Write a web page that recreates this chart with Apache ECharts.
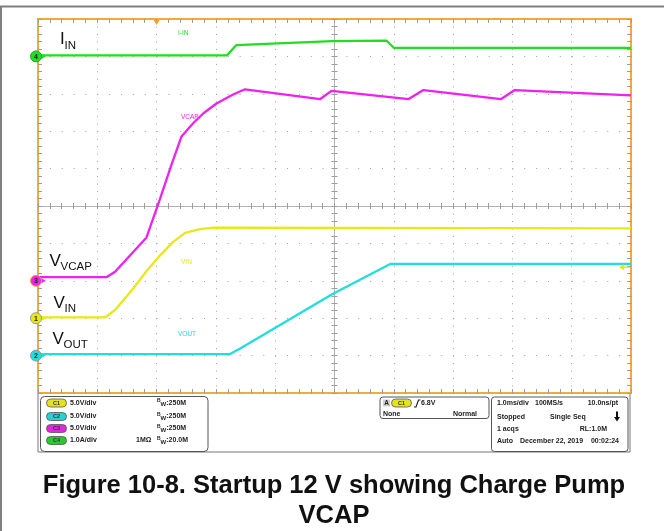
<!DOCTYPE html>
<html>
<head>
<meta charset="utf-8">
<script src="https://cdn.jsdelivr.net/npm/echarts@6/dist/echarts.min.js"></script>
<style>
  html, body { margin: 0; padding: 0; background: #fff; }
  #main { width: 664px; height: 531px; }
</style>
</head>
<body>
<div id="main"></div>
<script>
// time axis in ms, 1.0 ms/div, trigger sits on the 2nd division
const timeMin = -2;
const timeMax = 8;

// C4  I_IN (A), 1.0 A/div
const iinTime = [-2, 1.19, 1.34, 2.96, 3.88, 4.0, 8];
const iinAmps = [0.03, 0.03, 0.30, 0.41, 0.42, 0.23, 0.23];

// C3  VCAP (V), 5.0 V/div
const vcapTime = [-2, -0.84, -0.70, -0.17, 0.05, 0.25, 0.42, 0.62, 0.79, 1.01, 1.29, 1.49, 2.76, 2.95, 4.25, 4.50, 5.81, 6.04, 8];
const vcapVolts = [0.5, 0.5, 1.2, 5.8, 10.8, 15.5, 19.3, 21.1, 22.4, 23.7, 24.9, 25.6, 24.3, 25.4, 24.3, 25.5, 24.3, 25.5, 24.8];

// C1  VIN (V), 5.0 V/div
const vinTime = [-2, -0.87, -0.70, -0.39, -0.17, 0.06, 0.28, 0.48, 0.73, 0.96, 8];
const vinVolts = [0.1, 0.1, 1.1, 4.0, 6.3, 8.4, 10.2, 11.4, 11.9, 12.1, 12.0];

// C2  VOUT (V), 5.0 V/div
const voutTime = [-2, 1.24, 1.41, 2.96, 3.94, 8];
const voutVolts = [0.2, 0.2, 0.95, 8.2, 12.25, 12.25];

// trigger: C1 rising, 6.8 V
const triggerTime = 0;
const triggerLevel = 6.8;

// ground marker (divisions from bottom) and scale of each channel
const channels = [
  { num: '4', tag: 'I-IN', t: iinTime, v: iinAmps, ground: 9, perDiv: 1.0, color: '#22dd22', ring: '#22aa22' },
  { num: '3', tag: 'VCAP', t: vcapTime, v: vcapVolts, ground: 3, perDiv: 5.0, color: '#ee22ee', ring: '#f0a030' },
  { num: '1', tag: 'VIN', t: vinTime, v: vinVolts, ground: 2, perDiv: 5.0, color: '#e8e816', ring: '#999999' },
  { num: '2', tag: 'VOUT', t: voutTime, v: voutVolts, ground: 1, perDiv: 5.0, color: '#22dddd', ring: '#999999' }
];

const chart = echarts.init(document.getElementById('main'));
const FONT = '"Liberation Sans", Arial, sans-serif';
const tickStyle = { color: '#9c9c9c', width: 1 };

function frameAxis(kind, position, extra) {
  const isX = kind === 'x';
  return Object.assign({
    type: 'value',
    min: isX ? timeMin : 0,
    max: isX ? timeMax : 10,
    interval: 1,
    position: position,
    axisLine: { show: false, onZero: false },
    axisTick: { show: true, inside: true, length: 4, lineStyle: tickStyle },
    minorTick: { show: true, splitNumber: 5, length: 4, lineStyle: tickStyle },
    axisLabel: { show: false },
    splitLine: { show: false }
  }, extra || {});
}

const centerLine = { show: true, onZero: false, lineStyle: { color: '#b4b4b4', width: 1 } };

const option = {
  animation: false,
  backgroundColor: '#fff',
  grid: {
    left: 38, top: 19, width: 593, height: 374,
    show: true, backgroundColor: '#fff',
    borderColor: '#f2aa3c', borderWidth: 2
  },
  xAxis: [
    frameAxis('x', 'bottom', {
      splitLine: { show: true, lineStyle: { color: '#a0a0a0', width: 1, type: [1, 6.48] } }
    }),
    frameAxis('x', 'top'),
    frameAxis('x', 'bottom', { offset: -187, axisLine: centerLine,
      axisTick: { show: true, inside: true, length: 3, lineStyle: tickStyle },
      minorTick: { show: true, splitNumber: 5, length: 3, lineStyle: tickStyle } }),
    frameAxis('x', 'bottom', { offset: -187,
      axisTick: { show: true, inside: false, length: 3, lineStyle: tickStyle },
      minorTick: { show: true, splitNumber: 5, length: 3, lineStyle: tickStyle } })
  ],
  yAxis: [
    frameAxis('y', 'left', {
      splitLine: { show: true, lineStyle: { color: '#a0a0a0', width: 1, type: [1, 10.86] } }
    }),
    frameAxis('y', 'right'),
    frameAxis('y', 'left', { offset: -296.5, axisLine: centerLine,
      axisTick: { show: true, inside: true, length: 3, lineStyle: tickStyle },
      minorTick: { show: true, splitNumber: 5, length: 3, lineStyle: tickStyle } }),
    frameAxis('y', 'left', { offset: -296.5,
      axisTick: { show: true, inside: false, length: 3, lineStyle: tickStyle },
      minorTick: { show: true, splitNumber: 5, length: 3, lineStyle: tickStyle } })
  ],
  series: channels.map(function (ch, k) {
    return {
      type: 'line',
      name: ch.tag,
      xAxisIndex: 0,
      yAxisIndex: 0,
      symbol: 'none',
      z: 3 + k,
      lineStyle: { color: ch.color, width: 2.3 },
      data: ch.t.map(function (t, i) { return [t, ch.ground + ch.v[i] / ch.perDiv]; })
    };
  })
};
chart.setOption(option);

function px(t, d) {
  return chart.convertToPixel({ xAxisIndex: 0, yAxisIndex: 0 }, [t, d]);
}

const g = [];
function text(x, y, str, font, fill, align, vAlign, z) {
  g.push({
    type: 'text', z: z || 50,
    style: { x: x, y: y, text: str, font: font, fill: fill || '#000',
      textAlign: align || 'left', textVerticalAlign: vAlign || 'middle' }
  });
}
function pill(x, y, label, color) {
  g.push({ type: 'rect', z: 50, shape: { x: x, y: y - 4, width: 20, height: 8, r: 4 },
    style: { fill: color, stroke: '#555', lineWidth: 0.8 } });
  text(x + 10, y, label, 'bold 5.5px ' + FONT, '#333', 'center', 'middle', 51);
}

// outer page border
g.push({ type: 'line', z: 60, shape: { x1: 0, y1: 6.5, x2: 664, y2: 6.5 }, style: { stroke: '#808080', lineWidth: 2 } });
g.push({ type: 'line', z: 60, shape: { x1: 1, y1: 6, x2: 1, y2: 531 }, style: { stroke: '#808080', lineWidth: 2 } });

// channel ground markers + trace tags
const tagPos = { 'I-IN': [178, 33], 'VCAP': [181, 117], 'VIN': [181, 262], 'VOUT': [178, 334] };
channels.forEach(function (ch) {
  const p = px(timeMin, ch.ground);
  g.push({ type: 'polygon', z: 55, shape: { points: [[p[0] + 3, p[1] - 2.5], [p[0] + 8, p[1]], [p[0] + 3, p[1] + 2.5]] },
    style: { fill: ch.color } });
  g.push({ type: 'circle', z: 56, shape: { cx: p[0] - 2, cy: p[1], r: 5.5 },
    style: { fill: ch.color, stroke: ch.ring, lineWidth: 1 } });
  text(p[0] - 2, p[1] + 0.5, ch.num, 'bold 7px ' + FONT, '#222', 'center', 'middle', 57);
  text(tagPos[ch.tag][0], tagPos[ch.tag][1], ch.tag, '6.5px ' + FONT, ch.color);
});

// trigger markers
const tp = px(triggerTime, 10);
g.push({ type: 'polygon', z: 55, shape: { points: [[tp[0] - 3, tp[1] + 1], [tp[0] + 3, tp[1] + 1], [tp[0], tp[1] + 6]] },
  style: { fill: '#f2a030' } });
const lp = px(timeMax, 2 + triggerLevel / 5);
g.push({ type: 'polygon', z: 55, shape: { points: [[lp[0] - 12, lp[1]], [lp[0] - 7, lp[1] - 3], [lp[0] - 7, lp[1] + 3]] },
  style: { fill: '#e8e816' } });
g.push({ type: 'line', z: 55, shape: { x1: lp[0] - 8, y1: lp[1], x2: lp[0] - 1, y2: lp[1] },
  style: { stroke: '#e8e816', lineWidth: 1.5 } });

// big annotation labels
const bigFont = '17px ' + FONT;
const subFont = '11.5px ' + FONT;
text(60, 48, 'I', bigFont, '#111', 'left', 'bottom');
text(64.5, 52, 'IN', subFont, '#111', 'left', 'bottom');
text(49.5, 270, 'V', bigFont, '#111', 'left', 'bottom');
text(60.5, 273, 'VCAP', subFont, '#111', 'left', 'bottom');
text(53.5, 312, 'V', bigFont, '#111', 'left', 'bottom');
text(64.5, 314.5, 'IN', subFont, '#111', 'left', 'bottom');
text(52.5, 348, 'V', bigFont, '#111', 'left', 'bottom');
text(63.5, 351, 'OUT', subFont, '#111', 'left', 'bottom');

// status panel
g.push({ type: 'polyline', z: 40, shape: { points: [[38, 394], [38, 452], [630, 452], [630, 394]] },
  style: { stroke: '#777', lineWidth: 1, fill: null } });
g.push({ type: 'rect', z: 45, shape: { x: 40.5, y: 396.5, width: 167.5, height: 55, r: 4 },
  style: { fill: '#fff', stroke: '#555', lineWidth: 1 } });
g.push({ type: 'rect', z: 45, shape: { x: 380, y: 397, width: 109, height: 21.5, r: 3 },
  style: { fill: '#fff', stroke: '#555', lineWidth: 1 } });
g.push({ type: 'rect', z: 45, shape: { x: 491.5, y: 397, width: 136.5, height: 54.5, r: 3 },
  style: { fill: '#fff', stroke: '#555', lineWidth: 1 } });

const infoFont = 'bold 7px ' + FONT;
const chInfo = [
  ['C1', '#e4e41a', '5.0V/div', ''],
  ['C2', '#28d0d0', '5.0V/div', ''],
  ['C3', '#dd28dd', '5.0V/div', ''],
  ['C4', '#28cc28', '1.0A/div', '1M\u03a9']
];
const bwText = ['250M', '250M', '250M', '20.0M'];
const rowY = [403, 416.5, 428.5, 440.5];
chInfo.forEach(function (r, i) {
  pill(46.5, rowY[i], r[0], r[1]);
  text(70, rowY[i], r[2], infoFont, '#222');
  if (r[3]) text(136, rowY[i], r[3], infoFont, '#222');
  g.push({ type: 'text', z: 50, style: {
    x: 157, y: rowY[i], textVerticalAlign: 'middle',
    text: '{b|B}{w|W}{n|:' + bwText[i] + '}',
    rich: {
      b: { font: 'bold 5px ' + FONT, fill: '#222', verticalAlign: 'top', lineHeight: 9 },
      w: { font: 'bold 6px ' + FONT, fill: '#222', verticalAlign: 'bottom', lineHeight: 9 },
      n: { font: infoFont, fill: '#222', lineHeight: 9 }
    }
  } });
});

// trigger box
g.push({ type: 'rect', z: 50, shape: { x: 383, y: 399.5, width: 7, height: 7 }, style: { fill: '#cfcfcf' } });
text(386.5, 403, 'A', 'bold 6.5px ' + FONT, '#222', 'center', 'middle', 51);
pill(391.5, 403, 'C1', '#e4e41a');
g.push({ type: 'polyline', z: 50, shape: { points: [[414, 407], [416, 407], [418.5, 400], [420.5, 400]] },
  style: { stroke: '#222', lineWidth: 1.2, fill: null } });
text(421, 403, '6.8V', infoFont, '#222');
text(383, 414, 'None', infoFont, '#222');
text(477, 414, 'Normal', infoFont, '#222', 'right');

// acquisition box
text(497, 403, '1.0ms/div', infoFont, '#222');
text(535, 403, '100MS/s', infoFont, '#222');
text(618, 403, '10.0ns/pt', infoFont, '#222', 'right');
text(497, 417, 'Stopped', infoFont, '#222');
text(550, 417, 'Single Seq', infoFont, '#222');
g.push({ type: 'rect', z: 50, shape: { x: 616, y: 411.5, width: 2, height: 6 }, style: { fill: '#111' } });
g.push({ type: 'polygon', z: 50, shape: { points: [[614, 417], [620, 417], [617, 421.5]] }, style: { fill: '#111' } });
text(497, 429, '1 acqs', infoFont, '#222');
text(607, 429, 'RL:1.0M', infoFont, '#222', 'right');
text(497, 441, 'Auto', infoFont, '#222');
text(520, 441, 'December 22, 2019', infoFont, '#222');
text(619, 441, '00:02:24', infoFont, '#222', 'right');

// figure caption
const capFont = 'bold 25.5px ' + FONT;
text(334, 486, 'Figure 10-8. Startup 12 V showing Charge Pump', capFont, '#111', 'center');
text(334, 516, 'VCAP', capFont, '#111', 'center');

chart.setOption({ graphic: g });
</script>
</body>
</html>
